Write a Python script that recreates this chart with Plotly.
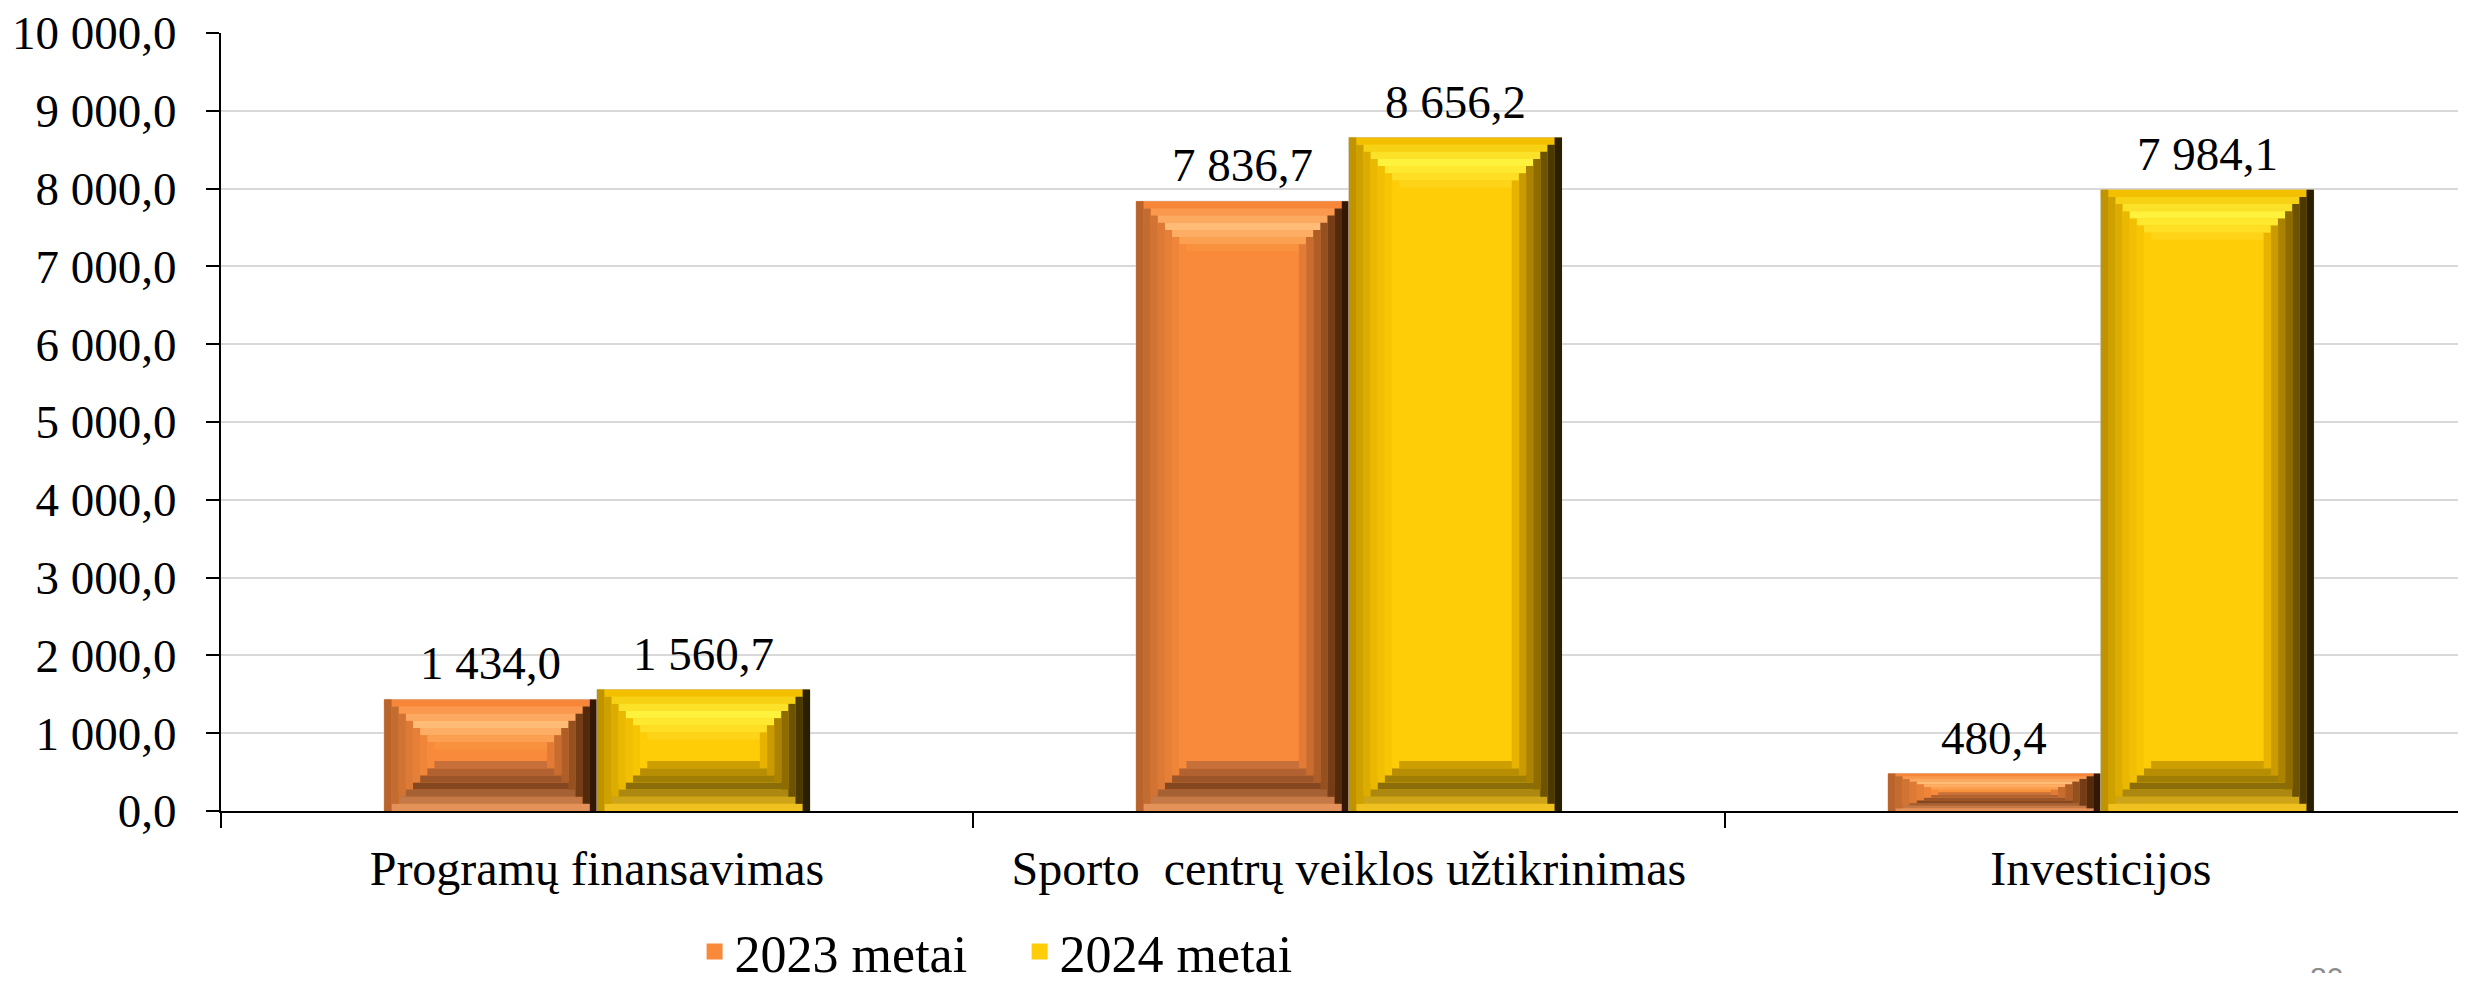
import numpy as np
import plotly.graph_objects as go

categories = ["Programų finansavimas", "Sporto\u00a0 centrų veiklos užtikrinimas", "Investicijos"]
series_names = ["2023 metai", "2024 metai"]
values_2023 = [1434.0, 7836.7, 480.4]
values_2024 = [1560.7, 8656.2, 7984.1]
y_ticks = [0, 1000, 2000, 3000, 4000, 5000, 6000, 7000, 8000, 9000, 10000]

FONT = "Liberation Serif, Times New Roman, serif"
# page has an 8px body margin; figure sized to fit inside the window
FIG_W, FIG_H = 2450, 965
ML, MT, MB = 213, 25, 162
plot_w = FIG_W - ML
plot_h = FIG_H - MT - MB
x_range = [-0.5, 2.475]
y_range = [0, 10000]
px_per_x = plot_w / (x_range[1] - x_range[0])
ky = (y_range[1] - y_range[0]) / plot_h  # y units per px

BAR_W = 0.283
BEVEL = 50.0
N = 7

styles = {
    "2023 metai": dict(
        main="#F98A3B",
        left=["#B8642C", "#DC7A36", "#F98A3B"],
        right=["#341704", "#955020", "#E27B35"],
        top=["#F78639", "#FFBC76", "#F9923F"],
        bottom=["#E4925A", "#85471F", "#C8703A"],
    ),
    "2024 metai": dict(
        main="#FFCC08",
        left=["#C09400", "#EAB800", "#FFCC08"],
        right=["#2A2000", "#8E6C00", "#E8B200"],
        top=["#F2C000", "#FFF23C", "#FFD418"],
        bottom=["#F0C020", "#8A6C08", "#CC9E00"],
    ),
}


def hex2rgb(h):
    h = h.lstrip("#")
    return np.array([int(h[i:i + 2], 16) for i in (0, 2, 4)], dtype=float)


def grad(stops, n):
    cols = [hex2rgb(c) for c in stops]
    out = []
    for i in range(n):
        t = i / (n - 1) * (len(cols) - 1)
        k = min(int(t), len(cols) - 2)
        f = t - k
        c = cols[k] * (1 - f) + cols[k + 1] * f
        out.append("rgb(%d,%d,%d)" % tuple(np.round(c)))
    return out


def fmt(x):
    return f"{x:,.1f}".replace(",", "\u00a0").replace(".", ",")


fig = go.Figure()

for name, vals, off in [("2023 metai", values_2023, -BAR_W), ("2024 metai", values_2024, 0.0)]:
    st = styles[name]
    v = np.array(vals, dtype=float)
    hpx = v / ky
    s = np.minimum(1.0, hpx / (2 * BEVEL))
    fig.add_trace(go.Bar(
        x=categories, y=v, name=name, offset=off, width=BAR_W,
        marker=dict(color=st["main"], line=dict(width=1, color="#C8C8C8")),
        hoverinfo="skip", showlegend=False,
    ))
    step = BEVEL / N
    d = np.arange(N + 1) * step
    tc = grad(st["top"], N)
    bc = grad(st["bottom"], N)
    for j in range(N):
        o = off + d[j] / px_per_x
        w = BAR_W - 2 * d[j] / px_per_x
        hh = step * s * ky
        fig.add_trace(go.Bar(x=categories, y=hh, base=v - d[j + 1] * s * ky, offset=o, width=w,
                             marker=dict(color=tc[j], line=dict(width=0)),
                             hoverinfo="skip", showlegend=False))
        fig.add_trace(go.Bar(x=categories, y=hh, base=d[j] * s * ky, offset=o, width=w,
                             marker=dict(color=bc[j], line=dict(width=0)),
                             hoverinfo="skip", showlegend=False))
    lc = grad(st["left"], N)
    rc = grad(st["right"], N)
    for i in range(N):
        base = d[i] * s * ky
        hh = v - 2 * base
        fig.add_trace(go.Bar(x=categories, y=hh, base=base, offset=off + d[i] / px_per_x,
                             width=step / px_per_x + 0.0004,
                             marker=dict(color=lc[i], line=dict(width=0)),
                             hoverinfo="skip", showlegend=False))
        fig.add_trace(go.Bar(x=categories, y=hh, base=base, offset=off + BAR_W - d[i + 1] / px_per_x,
                             width=step / px_per_x + 0.0004,
                             marker=dict(color=rc[i], line=dict(width=0)),
                             hoverinfo="skip", showlegend=False))
    # value labels
    for ci, val in enumerate(v):
        fig.add_annotation(x=ci + off + BAR_W / 2, y=val, xref="x", yref="y",
                           text=fmt(val), showarrow=False, yanchor="bottom", xanchor="center",
                           yshift=8, font=dict(family=FONT, size=47, color="black"))
    # legend entry
    fig.add_trace(go.Scatter(x=[None], y=[None], mode="markers", name=name,
                             marker=dict(symbol="square", size=24, color=st["main"],
                                         line=dict(width=0)),
                             showlegend=True, hoverinfo="skip"))

fig.add_annotation(text="80", xref="paper", yref="paper", x=0.9414, y=-0.19,
                   xanchor="center", yanchor="top", showarrow=False,
                   font=dict(family="Liberation Sans, Arial, sans-serif", size=30, color="#8C8C8C"))

fig.update_layout(
    width=FIG_W, height=FIG_H,
    margin=dict(l=ML, r=0, t=MT, b=MB, autoexpand=False),
    barmode="overlay",
    separators=", ",
    plot_bgcolor="white", paper_bgcolor="white",
    font=dict(family=FONT, size=47, color="black"),
    legend=dict(orientation="h", x=0.357, y=-0.181, xanchor="center", yanchor="middle",
                font=dict(family=FONT, size=52, color="black"), itemwidth=30,
                entrywidth=280, entrywidthmode="pixels",
                traceorder="normal", bgcolor="rgba(0,0,0,0)"),
    xaxis=dict(type="category", range=x_range, tickson="boundaries", ticks="outside",
               ticklen=15, tickwidth=2, tickcolor="black", showline=True, linecolor="black",
               linewidth=2, showgrid=False, tickfont=dict(family=FONT, size=48),
               ticklabelstandoff=14, fixedrange=True),
    yaxis=dict(range=y_range, tickvals=y_ticks, tickformat=",.1f", ticks="outside",
               ticklen=13, tickwidth=2, tickcolor="black", showline=True, linecolor="black",
               linewidth=2, showgrid=True, gridcolor="#D9D9D9", gridwidth=2,
               zeroline=False, tickfont=dict(family=FONT, size=47),
               ticklabelstandoff=20, ticklabeloverflow="allow", fixedrange=True),
)

fig.write_html("out.html")
